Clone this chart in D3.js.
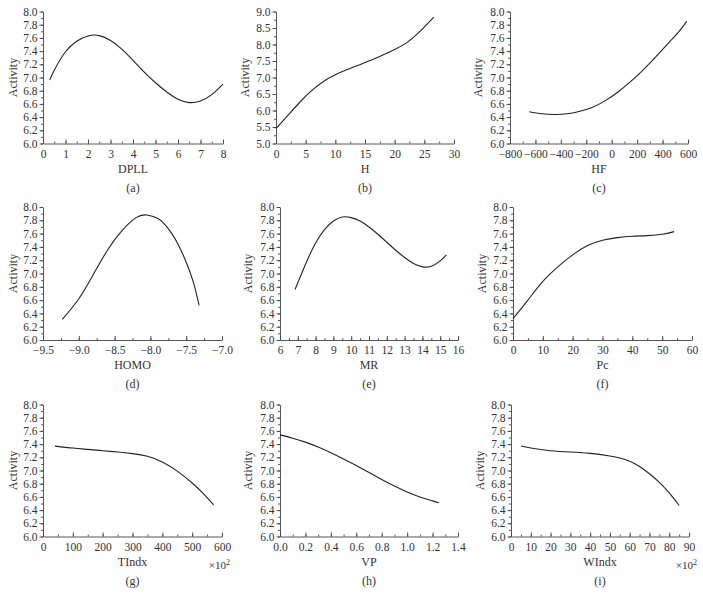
<!DOCTYPE html>
<html><head><meta charset="utf-8">
<script src="https://cdn.jsdelivr.net/npm/d3@7"></script>
<style>
body{margin:0;background:#fff;}
svg{display:block;}
text{font-family:"Liberation Serif","Times New Roman",serif;fill:#333;}
</style></head>
<body><svg id="c" width="703" height="605"></svg>
<script>
// ---- data ----
const dpllX = [0.3,0.5,1.0,1.5,2.0,2.5,3.0,3.5,4.0,4.5,5.0,5.5,6.0,6.5,7.0,7.5,8.0];
const dpllY = [6.96,7.11,7.39,7.55,7.63,7.635,7.56,7.43,7.26,7.08,6.92,6.78,6.67,6.62,6.645,6.74,6.90];
const hX = [0,2,4,6,8,10,12,14,16,18,20,22,24,26.6];
const hY = [5.45,5.85,6.25,6.6,6.88,7.08,7.24,7.38,7.52,7.68,7.85,8.05,8.35,8.83];
const hfX = [-650,-550,-450,-350,-250,-150,-50,50,150,250,350,450,530,590];
const hfY = [6.48,6.45,6.44,6.45,6.49,6.55,6.65,6.78,6.94,7.12,7.32,7.53,7.70,7.85];
const homoX = [-9.23,-9.0,-8.8,-8.6,-8.4,-8.2,-8.05,-7.9,-7.8,-7.7,-7.6,-7.5,-7.4,-7.32];
const homoY = [6.31,6.62,6.98,7.35,7.64,7.84,7.88,7.83,7.74,7.60,7.41,7.17,6.87,6.52];
const mrX = [6.85,7.0,7.5,8.0,8.5,9.0,9.5,10.0,10.5,11.0,11.5,12.0,12.5,13.0,13.5,14.0,14.5,15.0,15.35];
const mrY = [6.76,6.86,7.18,7.46,7.66,7.79,7.85,7.84,7.79,7.70,7.59,7.47,7.35,7.24,7.15,7.10,7.11,7.19,7.28];
const pcX = [0,5,10,15,20,25,30,35,40,45,50,54];
const pcY = [6.32,6.60,6.88,7.10,7.28,7.42,7.50,7.54,7.56,7.57,7.59,7.63];
const tX = [40,100,150,200,250,300,350,400,450,500,540,572];
const tY = [7.37,7.34,7.32,7.30,7.28,7.255,7.215,7.13,6.99,6.81,6.64,6.48];
const vpX = [0,0.1,0.2,0.3,0.4,0.5,0.6,0.7,0.8,0.9,1.0,1.1,1.2,1.25];
const vpY = [7.54,7.49,7.43,7.355,7.27,7.175,7.075,6.97,6.865,6.765,6.675,6.60,6.54,6.51];
const wX = [5,10,20,30,40,50,55,60,65,70,75,80,85];
const wY = [7.37,7.34,7.30,7.28,7.26,7.22,7.19,7.14,7.06,6.95,6.82,6.66,6.47];

const xNames = ["DPLL","H","HF","HOMO","MR","Pc","TIndx","VP","WIndx"];
const panelTags = ["(a)","(b)","(c)","(d)","(e)","(f)","(g)","(h)","(i)"];
const yLabel = "Activity";
const xDomains = [[0,8],[0,30],[-800,600],[-9.5,-7],[6,16],[0,60],[0,600],[0,1.4],[0,90]];
const xMajor = [1,5,200,0.5,1,10,100,0.2,10];
const xMinor = [0.5,2.5,100,0.25,0.5,5,50,0.1,5];
const xFmt = [".0f",".0f",".0f",".1f",".0f",".0f",".0f",".1f",".0f"];
const yDomains = [[6,8],[5,9],[6,8],[6,8],[6,8],[6,8],[6,8],[6,8],[6,8]];
const yMajor = [0.2,0.5,0.2,0.2,0.2,0.2,0.2,0.2,0.2];
const yMinor = [0.1,0.25,0.1,0.1,0.1,0.1,0.1,0.1,0.1];
const multBase = "\u00d710";
const multExp = "2";
const showMult = [false,false,false,false,false,false,true,false,true];
const seriesX = [dpllX,hX,hfX,homoX,mrX,pcX,tX,vpX,wX];
const seriesY = [dpllY,hY,hfY,homoY,mrY,pcY,tY,vpY,wY];

// ---- layout ----
const boxes = [
  {l:43,r:223,t:11.5,b:143.5,al:13},{l:276,r:454,t:11.5,b:143.5,al:245},{l:510,r:688,t:11.5,b:143.5,al:478},
  {l:43,r:222,t:207,b:340,al:13},{l:280,r:458,t:207,b:340,al:248},{l:513,r:692,t:207,b:340,al:482},
  {l:43,r:222,t:404.5,b:536.5,al:13},{l:280,r:458,t:404.5,b:536.5,al:248},{l:511,r:689,t:404.5,b:536.5,al:480}
];

const svg = d3.select("#c");
function range(a,b,s){const o=[];const n=Math.round((b-a)/s);for(let i=0;i<=n;i++)o.push(+(a+i*s).toFixed(6));return o;}

boxes.forEach((bx,i)=>{
  const x = d3.scaleLinear().domain(xDomains[i]).range([bx.l,bx.r]);
  const y = d3.scaleLinear().domain(yDomains[i]).range([bx.b,bx.t]);
  const g = svg.append("g");
  const xMaj = range(xDomains[i][0],xDomains[i][1],xMajor[i]);
  const xMin = range(xDomains[i][0],xDomains[i][1],xMinor[i]);
  const yMaj = range(yDomains[i][0],yDomains[i][1],yMajor[i]);
  const yMin = range(yDomains[i][0],yDomains[i][1],yMinor[i]);
  g.append("g").attr("transform",`translate(0,${bx.b})`)
    .call(d3.axisBottom(x).tickValues(xMin).tickSize(-2).tickSizeOuter(0).tickFormat(""))
    .call(s=>s.select(".domain").remove());
  g.append("g").attr("transform",`translate(0,${bx.b})`)
    .call(d3.axisBottom(x).tickValues(xMaj).tickSize(-4).tickSizeOuter(0).tickPadding(6).tickFormat(d3.format(xFmt[i])))
    .call(s=>s.selectAll("text").attr("font-size",11.5).attr("fill","#333").attr("font-family","Liberation Serif, serif"));
  g.append("g").attr("transform",`translate(${bx.l},0)`)
    .call(d3.axisLeft(y).tickValues(yMin).tickSize(2).tickSizeOuter(0).tickFormat(""))
    .call(s=>s.select(".domain").remove());
  g.append("g").attr("transform",`translate(${bx.l},0)`)
    .call(d3.axisLeft(y).tickValues(yMaj).tickSize(3.5).tickSizeOuter(0).tickPadding(2).tickFormat(d3.format(".1f")))
    .call(s=>s.selectAll("text").attr("font-size",11.5).attr("fill","#333").attr("font-family","Liberation Serif, serif"));
  g.selectAll(".domain, .tick line").attr("stroke","#444").attr("stroke-width",0.9);

  const pts = seriesX[i].map((v,k)=>[v,seriesY[i][k]]);
  g.append("path").datum(pts)
    .attr("fill","none").attr("stroke","#222").attr("stroke-width",1.1)
    .attr("d",d3.line().x(d=>x(d[0])).y(d=>y(d[1])).curve(d3.curveNatural));

  const cx = (bx.l+bx.r)/2;
  g.append("text").attr("x",cx).attr("y",bx.b+29).attr("text-anchor","middle")
    .attr("font-size",12).text(xNames[i]);
  g.append("text").attr("x",cx).attr("y",bx.b+48).attr("text-anchor","middle")
    .attr("font-size",12).text(panelTags[i]);
  g.append("text").attr("transform",`translate(${bx.al+4},${(bx.t+bx.b)/2}) rotate(-90)`)
    .attr("text-anchor","middle").attr("font-size",12).text(yLabel);
  if(showMult[i]){
    const t = g.append("text").attr("x",bx.r+8).attr("y",bx.b+32).attr("text-anchor","end").attr("font-size",11);
    t.append("tspan").text(multBase);
    t.append("tspan").attr("dy",-4).attr("font-size",8).text(multExp);
  }
});
</script></body></html>
